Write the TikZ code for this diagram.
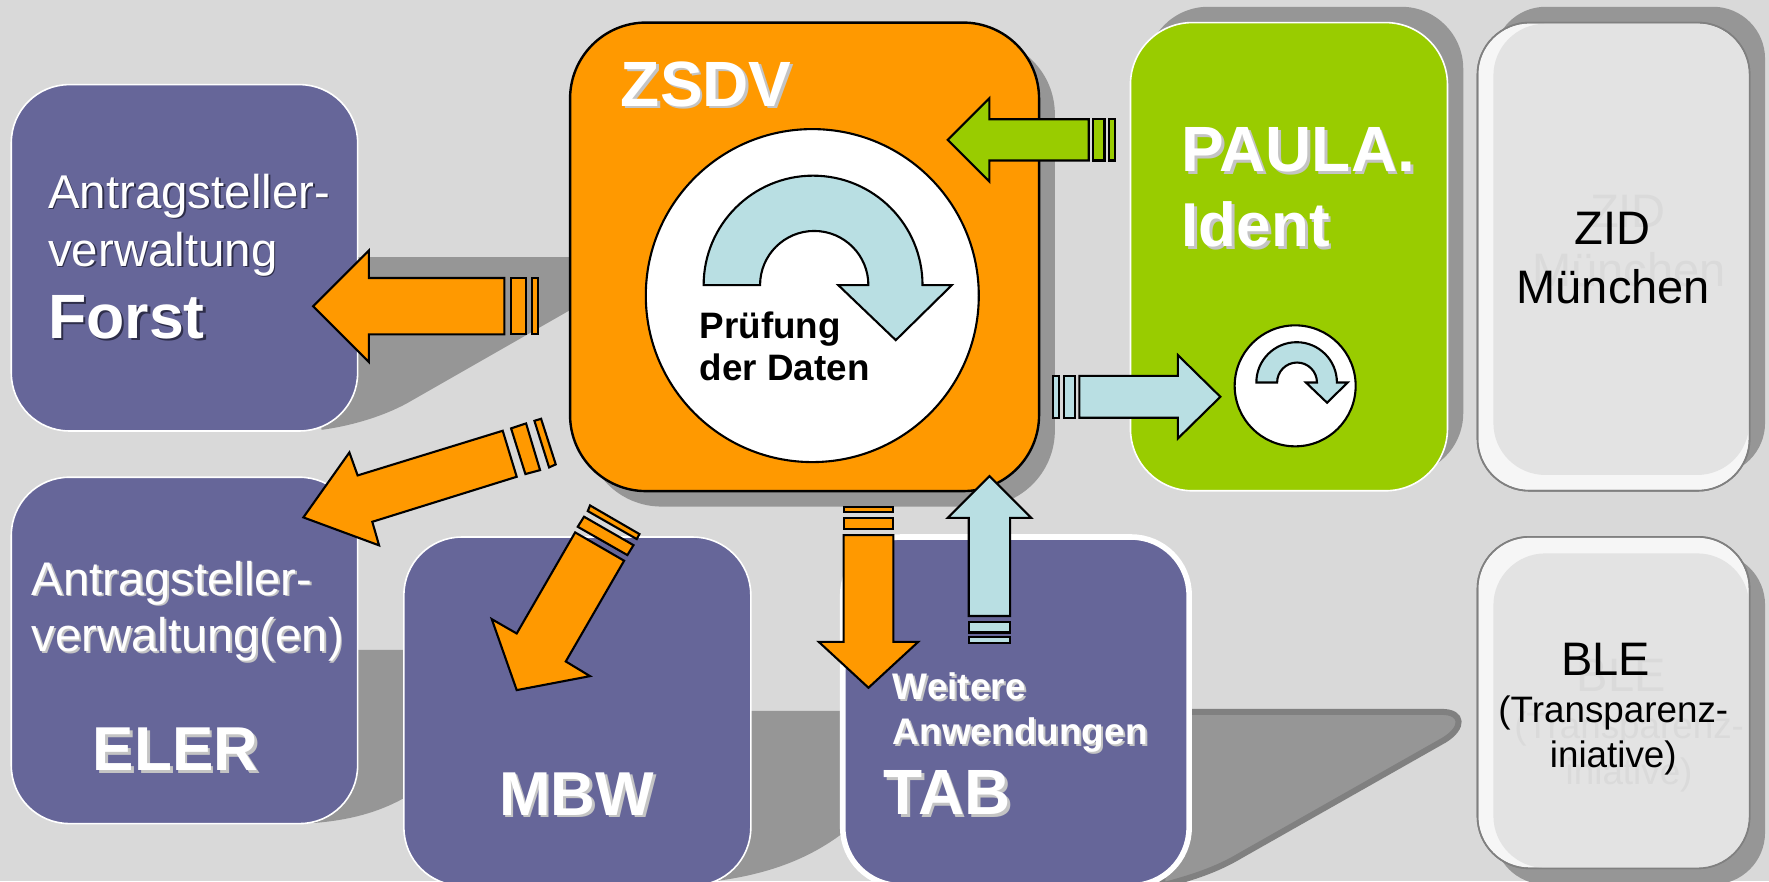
\documentclass[tikz,border=0pt]{standalone}
\usepackage{fontspec}
\setmainfont{Liberation Sans}
\definecolor{bgc}{HTML}{D9D9D9}
\definecolor{shc}{HTML}{969696}
\definecolor{shd}{HTML}{808080}
\definecolor{pur}{HTML}{666699}
\definecolor{org}{HTML}{FF9900}
\definecolor{grn}{HTML}{99CC00}
\definecolor{blu}{HTML}{B9DFE3}
\definecolor{bev}{HTML}{F6F6F6}
\definecolor{inn}{HTML}{E3E3E3}
\definecolor{gho}{HTML}{DADADA}
\definecolor{tsl}{HTML}{C4C4C4}
\definecolor{tsd}{HTML}{2E2E4A}
\newcommand{\fs}[1]{\fontsize{#1}{#1}\selectfont}
% name, x, y, font, shadow colour, offset, text
\newcommand{\shlabel}[7]{%
  \node[txtw,text=#5] (#1s) at (#2+#6,#3+#6) {#4#7};
  \node[txtw] (#1) at (#2,#3) {#4#7};}
% horizontal/vertical block arrow: tip x, tip y, angle, fill, h, a, b, tail
\newcommand{\blockarrow}[8]{%
  \begin{scope}[shift={(#1,#2)},rotate=#3]
    \path[arrowline,fill=#4] (0,0) -- (-#5,#6) -- (-#5,#7) -- (-#8,#7) -- (-#8,-#7) -- (-#5,-#7) -- (-#5,-#6) -- cycle;
  \end{scope}}
\newcommand{\arrowbars}[8]{%
  \begin{scope}[shift={(#1,#2)},rotate=#3]
    \path[arrowline,fill=#4] (-#6,#5) rectangle (-#7,-#5);
    \path[arrowline,fill=#4] (-#8,#5) rectangle (-#8-\barw,-#5);
  \end{scope}}
\newcommand{\circarrow}[3]{% cx, baseline, scale
  \begin{scope}[shift={(#1,#2)},scale=#3]
    \path[arrowline,fill=blu] (-97,0) arc[start angle=180,end angle=360,radius=97]
      -- (123,0) -- (73.3,48.8) -- (22.3,0) -- (49,0)
      arc[start angle=360,end angle=180,radius=48] -- cycle;
  \end{scope}}
\tikzset{
  bluebox/.style={fill=pur,draw=white,line width=.8pt,rounded corners=29pt},
  shadowbox/.style={fill=shc,draw=none},
  greybox/.style={fill=bev,draw=shd,line width=.8pt,rounded corners=26pt},
  innerbox/.style={fill=inn,draw=none,rounded corners=26pt},
  arrowline/.style={draw=black,line width=1.05pt,line join=miter},
  txtw/.style={anchor=base west,inner sep=0pt,text=white},
  txtk/.style={anchor=base,inner sep=0pt,text=black},
  txtg/.style={anchor=base,inner sep=0pt,text=gho},
}
\def\barw{5}
\begin{document}
\begin{tikzpicture}[x=0.56410pt,y=-0.56410pt]
\useasboundingbox (0,0) rectangle (1568,781);
\clip (0,0) rectangle (1568,781);
\fill[bgc] (0,0) rectangle (1568,781);

% long cast shadows
\fill[shc] (300,228) -- (515,228) -- (515,270) -- (505,275) -- (365,355) .. controls (345,367) and (315,377) .. (285,381) -- (280,300) -- cycle;
\fill[shc] (300,576) -- (362,576) -- (362,705) -- (357,708) .. controls (335,720) and (310,727) .. (278,729.5) -- (280,650) -- cycle;
\fill[shc] (650,630) -- (752,630) -- (752,737) -- (745,740) .. controls (715,762) and (680,775) .. (634,781) -- (640,700) -- cycle;
\path[fill=shc,draw=shd,line width=3pt,line join=round] (1040,631) -- (1278,631) .. controls (1297,631) and (1298,645) .. (1280,656) -- (1100,758) .. controls (1080,770) and (1060,777) .. (1030,785) -- cycle;

% left boxes
\path[bluebox] (10,75) rectangle (317,382);
\path[bluebox] (10,423) rectangle (317,730);
\path[bluebox] (358,476) rectangle (665.5,785);
\path[bluebox,line width=2.8pt] (747,476) rectangle (1054,785);

% ZSDV
\path[shadowbox,rounded corners=38pt] (519,34) rectangle (935,449);
\path[fill=org,draw=black,line width=1.2pt,rounded corners=38pt] (505.3,20) rectangle (921,435.3);
\node[draw=black,line width=1.05pt,fill=white,circle,minimum size=166.5pt,inner sep=0pt] (check) at (720,262) {};
\circarrow{720.7}{252.7}{1}

% PAULA
\path[shadowbox,rounded corners=31pt] (1016,6) rectangle (1297,421);
\path[fill=grn,draw=white,line width=.8pt,rounded corners=31pt] (1002,20) rectangle (1283,435);
\node[draw=black,line width=1.05pt,fill=white,circle,minimum size=60.5pt,inner sep=0pt] (checkb) at (1148,342) {};
\circarrow{1149.3}{339}{0.368}

% ZID
\path[shadowbox,rounded corners=26pt] (1324,6) rectangle (1564.5,421);
\path[greybox] (1309.6,20) rectangle (1550.8,435);
\path[innerbox] (1323.7,21) rectangle (1550.4,421);
\path[draw=shd,line width=.8pt,rounded corners=26pt] (1309.6,20) rectangle (1550.8,435);
\node[txtg] (zidg) at (1443,202) {\fs{23.5}ZID};
\node[txtg] (zidh) at (1444,254) {\fs{23.5}München};
\node[txtk] (zid) at (1429,217) {\fs{23.5}ZID};
\node[txtk] (zidb) at (1430,269) {\fs{23.5}München};

% BLE
\path[shadowbox,rounded corners=26pt] (1324,490) rectangle (1564.5,784);
\path[greybox] (1309.6,475.8) rectangle (1550.8,769.7);
\path[innerbox] (1323.7,490.5) rectangle (1550.4,769.3);
\path[draw=shd,line width=.8pt,rounded corners=26pt] (1309.6,475.8) rectangle (1550.8,769.7);
\node[txtg] (bleg) at (1437,613) {\fs{23.5}BLE};
\node[txtg] (bleh) at (1444,655) {\fs{18.4}(Transparenz-};
\node[txtg] (blei) at (1444,695) {\fs{18.4}iniative)};
\node[txtk] (ble) at (1423,598.4) {\fs{23.5}BLE};
\node[txtk] (bleb) at (1430,640) {\fs{18.4}(Transparenz-};
\node[txtk] (blec) at (1430,680) {\fs{18.4}iniative)};

% arrows
\blockarrow{277.5}{271.4}{180}{org}{49.5}{49.5}{25}{169.5}
\arrowbars{277.5}{271.4}{180}{org}{25}{175.5}{188.5}{194}
\path[arrowline,fill=org] (268.9,458.6) -- (309.7,401) -- (317,421.4) -- (445.6,381.8) -- (458,422.6) -- (330,462.5) -- (336,483.4) -- cycle;
\path[arrowline,fill=org] (453,379.7) -- (466.3,375.3) -- (478.7,416.7) -- (465.7,420.2) -- cycle;
\path[arrowline,fill=org] (473.7,373) -- (479.6,371.2) -- (492.6,411.6) -- (486.7,414.3) -- cycle;
\path[arrowline,fill=org] (458,611.7) -- (435.9,548.8) -- (458,561.5) -- (509.8,471.9) -- (553.2,497) -- (501.5,586.3) -- (523,599.3) -- cycle;
\path[arrowline,fill=org] (517.7,458) -- (561.5,483.2) -- (556.1,492) -- (512.1,466.9) -- cycle;
\path[arrowline,fill=org] (523,448) -- (566.8,473.4) -- (564.4,477.8) -- (521,453) -- cycle;
\blockarrow{769.8}{609.6}{-90}{org}{40.6}{44}{22}{135.3}
\arrowbars{769.8}{609.6}{-90}{org}{22}{140.4}{150.6}{155.4}
\blockarrow{877}{422}{90}{blu}{37}{37}{18.3}{124}
\arrowbars{877}{422}{90}{blu}{18.3}{129}{138.6}{142.8}
\blockarrow{840}{124}{180}{grn}{37}{37}{18.3}{125}
\arrowbars{840}{124}{180}{grn}{18.3}{129}{139}{143}
\blockarrow{1081.7}{351.7}{0}{blu}{37.7}{37}{18.6}{125}
\arrowbars{1081.7}{351.7}{0}{blu}{18.6}{128.7}{138.7}{143}

% texts
\shlabel{fa}{42.4}{184.6}{\fs{23.7}}{tsd}{1.5}{Antragsteller-}
\shlabel{fb}{42.4}{235.8}{\fs{23.7}}{tsd}{1.5}{verwaltung}
\shlabel{fc}{42.5}{300}{\fs{31.3}\bfseries}{tsd}{2}{Forst}
\shlabel{ea}{27.8}{527.5}{\fs{23.6}}{tsl}{1.5}{Antragsteller-}
\shlabel{eb}{27.8}{577.7}{\fs{23.6}}{tsl}{1.5}{verwaltung(en)}
\shlabel{ec}{82}{683}{\fs{31}\bfseries}{tsl}{2.5}{ELER}
\shlabel{mb}{442}{722.5}{\fs{31}\bfseries}{tsl}{2.5}{MBW}
\shlabel{ta}{791}{620}{\fs{18.5}\bfseries}{tsl}{1.8}{Weitere}
\shlabel{tb}{791}{660}{\fs{18.5}\bfseries}{tsl}{1.8}{Anwendungen}
\shlabel{tc}{783}{722}{\fs{32}\bfseries}{tsl}{2.5}{TAB}
\shlabel{za}{550}{94}{\fs{32}\bfseries}{tsl}{2.5}{ZSDV}
\shlabel{pa}{1047}{152}{\fs{32}\bfseries}{tsl}{2.5}{PAULA.}
\shlabel{pb}{1047}{218.7}{\fs{31}\bfseries}{tsl}{2.5}{Ident}
\node[txtw,text=black] (pra) at (620,300) {\fs{18.4}\bfseries Prüfung};
\node[txtw,text=black] (prb) at (620,337.7) {\fs{18.4}\bfseries der Daten};
\end{tikzpicture}
\end{document}
